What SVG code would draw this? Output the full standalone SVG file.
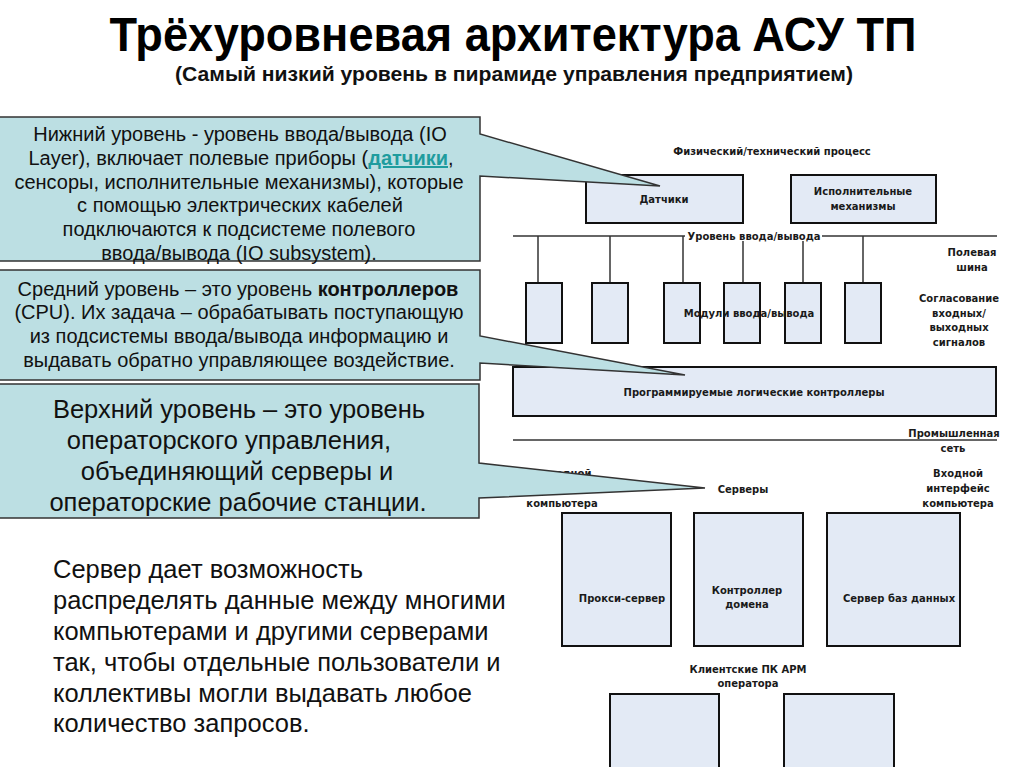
<svg xmlns="http://www.w3.org/2000/svg" width="1024" height="767" viewBox="0 0 1024 767">
<style>
.title{font-family:"Liberation Sans",Arial,sans-serif;font-weight:bold;fill:#000}
.sub{font-family:"Liberation Sans",Arial,sans-serif;font-weight:bold;fill:#111}
.box{fill:#e3eaf5;stroke:#111;stroke-width:2}
.bus{stroke:#333;stroke-width:1.5;fill:none}
.lbl{font-family:"DejaVu Sans",Verdana,sans-serif;font-weight:bold;font-size:10px;fill:#1a1a1a;text-anchor:middle}
.call{fill:#bcdfe3;stroke:#333;stroke-width:1.5}
.ct{font-family:"Liberation Sans",Arial,sans-serif;font-size:20px;fill:#111;text-anchor:middle}
.ct3{font-family:"Liberation Sans",Arial,sans-serif;font-size:25.5px;fill:#111;text-anchor:middle}
.para{font-family:"Liberation Sans",Arial,sans-serif;font-size:25.5px;fill:#111}
.link{fill:#1f9c9e;font-weight:bold;text-decoration:underline}
</style>
<rect width="1024" height="767" fill="#fff"/>
<g id="title">
<text class="title" x="513" y="51" font-size="48" text-anchor="middle" textLength="807" lengthAdjust="spacingAndGlyphs">Трёхуровневая архитектура АСУ ТП</text>
<text class="sub" x="514" y="81" font-size="21" text-anchor="middle" textLength="678" lengthAdjust="spacingAndGlyphs">(Самый низкий уровень в пирамиде управления предприятием)</text>
</g>
<text class="lbl" x="772" y="155">Физический/технический процесс</text>
<g id="connectors">
<line class="bus" x1="513" y1="236" x2="997" y2="236"/>
<line class="bus" x1="538" y1="236" x2="538" y2="283"/>
<line class="bus" x1="610" y1="236" x2="610" y2="283"/>
<line class="bus" x1="683" y1="236" x2="683" y2="283"/>
<line class="bus" x1="743" y1="236" x2="743" y2="283"/>
<line class="bus" x1="803" y1="236" x2="803" y2="283"/>
<line class="bus" x1="863" y1="236" x2="863" y2="283"/>
<line class="bus" x1="513" y1="440" x2="997" y2="440"/>
</g>
<g id="io-label">
<rect x="685" y="230" width="137" height="11" fill="#fff"/>
<text class="lbl" x="754" y="240">Уровень ввода/вывода</text>
</g>
<g id="sensors"><rect class="box" x="586" y="175" width="157" height="48"/><text class="lbl" x="664" y="203">Датчики</text></g>
<g id="actuators"><rect class="box" x="791" y="175" width="145" height="48"/><text class="lbl" x="863" y="195">Исполнительные</text><text class="lbl" x="863" y="210">механизмы</text></g>
<g id="io-modules">
<rect class="box" x="526" y="283" width="36" height="60"/>
<rect class="box" x="592" y="283" width="36" height="60"/>
<rect class="box" x="664" y="283" width="36" height="60"/>
<rect class="box" x="724" y="283" width="36" height="60"/>
<rect class="box" x="785" y="283" width="36" height="60"/>
<rect class="box" x="845" y="283" width="36" height="60"/>
<text class="lbl" x="749" y="317">Модули ввода/вывода</text>
</g>
<g id="fieldbus-label"><text class="lbl" x="972" y="256">Полевая</text><text class="lbl" x="972" y="271">шина</text></g>
<g id="signals-label"><text class="lbl" x="959" y="302">Согласование</text><text class="lbl" x="959" y="317">входных/</text><text class="lbl" x="959" y="331">выходных</text><text class="lbl" x="959" y="346">сигналов</text></g>
<g id="plc"><rect class="box" x="513" y="367" width="483" height="49"/><text class="lbl" x="754" y="396">Программируемые логические контроллеры</text></g>
<g id="network-label"><text class="lbl" x="954" y="437">Промышленная</text><text class="lbl" x="953" y="452">сеть</text></g>
<g id="out-iface"><text class="lbl" x="562" y="477">Выходной</text><text class="lbl" x="562" y="492">интерфейс</text><text class="lbl" x="562" y="507">компьютера</text></g>
<g id="in-iface"><text class="lbl" x="958" y="477">Входной</text><text class="lbl" x="958" y="492">интерфейс</text><text class="lbl" x="958" y="507">компьютера</text></g>
<g id="servers-label"><text class="lbl" x="743" y="493">Серверы</text></g>
<g id="proxy"><rect class="box" x="562" y="513" width="109" height="133"/><text class="lbl" x="622" y="602">Прокси-сервер</text></g>
<g id="domain"><rect class="box" x="694" y="513" width="109" height="133"/><text class="lbl" x="747" y="594">Контроллер</text><text class="lbl" x="747" y="608">домена</text></g>
<g id="db"><rect class="box" x="827" y="513" width="133" height="133"/><text class="lbl" x="899" y="602">Сервер баз данных</text></g>
<g id="clients-label"><text class="lbl" x="748" y="673">Клиентские ПК АРМ</text><text class="lbl" x="748" y="687">оператора</text></g>
<g id="client1"><rect class="box" x="610" y="694" width="109" height="74"/></g>
<g id="client2"><rect class="box" x="784" y="694" width="110" height="74"/></g>
<g id="callout-lower">
<path class="call" d="M-2,117 H480 V134 L660,186 L480,176 V261 H-2 Z"/>
<text class="ct" x="240" y="141">Нижний уровень - уровень ввода/вывода (IO</text>
<text class="ct" x="241" y="165">Layer), включает полевые приборы (<tspan class="link">датчики</tspan>,</text>
<text class="ct" x="239" y="189">сенсоры, исполнительные механизмы), которые</text>
<text class="ct" x="240" y="212">с помощью электрических кабелей</text>
<text class="ct" x="239" y="236">подключаются к подсистеме полевого</text>
<text class="ct" x="239" y="260">ввода/вывода (IO subsystem).</text>
</g>
<g id="callout-middle">
<path class="call" d="M-2,270 H480 V336 L685,375 L480,363 V380 H-2 Z"/>
<text class="ct" x="238" y="296">Средний уровень – это уровень <tspan font-weight="bold">контроллеров</tspan></text>
<text class="ct" x="239" y="319">(CPU). Их задача – обрабатывать поступающую</text>
<text class="ct" x="239" y="343">из подсистемы ввода/вывода информацию и</text>
<text class="ct" x="239" y="367">выдавать обратно управляющее воздействие.</text>
</g>
<g id="callout-upper">
<path class="call" d="M-2,384 H479 V463 L705,488 L479,498 V518 H-2 Z"/>
<text class="ct3" x="239" y="418">Верхний уровень – это уровень</text>
<text class="ct3" x="229" y="449">операторского управления,</text>
<text class="ct3" x="237" y="480">объединяющий серверы и</text>
<text class="ct3" x="238" y="511">операторские рабочие станции.</text>
</g>
<g id="paragraph">
<text class="para" x="53" y="578">Сервер дает возможность</text>
<text class="para" x="53" y="609">распределять данные между многими</text>
<text class="para" x="53" y="640">компьютерами и другими серверами</text>
<text class="para" x="53" y="671">так, чтобы отдельные пользователи и</text>
<text class="para" x="53" y="702">коллективы могли выдавать любое</text>
<text class="para" x="53" y="732">количество запросов.</text>
</g>
</svg>
